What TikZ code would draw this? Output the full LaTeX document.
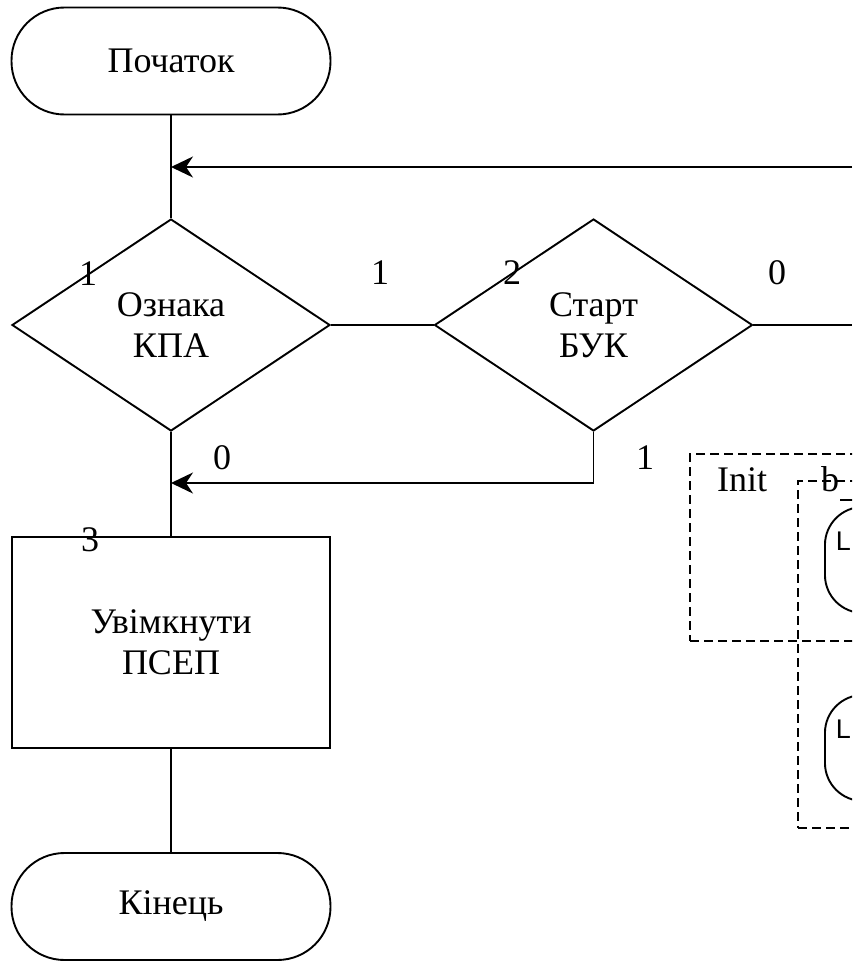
\documentclass[tikz,border=0pt]{standalone}
\usepackage{fontspec}
\setmainfont{Liberation Serif}
\newfontfamily\lsans{Liberation Sans}
\usetikzlibrary{shapes.geometric,arrows.meta}
\begin{document}
\begin{tikzpicture}[x=1pt,y=-1pt,line width=1.9pt,
  font=\fontsize{36}{41}\selectfont,
  term/.style={draw,rectangle,rounded corners=53pt,minimum width=319pt,minimum height=107pt,align=center,inner sep=0pt},
  dec/.style={draw,diamond,minimum width=318pt,minimum height=212pt,align=center,inner sep=0pt},
  proc/.style={draw,rectangle,minimum width=318pt,minimum height=211pt,align=center,inner sep=0pt},
  lbl/.style={inner sep=0pt},
  arr/.style={-{Stealth[length=22pt,width=21pt,inset=7pt]}},
  dbox/.style={draw,line width=2.2pt,dash pattern=on 9pt off 5pt,rectangle,inner sep=0pt,anchor=north west},
  rbox/.style={draw,rectangle,rounded corners=38pt,inner sep=0pt,anchor=north west,minimum width=150pt,minimum height=106pt},
  sanslbl/.style={inner sep=0pt,anchor=west,font=\lsans\fontsize{27}{31}\selectfont}]
\useasboundingbox (0,0) rectangle (852,961);
\fill[white] (0,0) rectangle (852,961);
\clip (0,0) rectangle (852,961);

% main flowchart
\node[term] (start) at (171,61) {Початок};
\node[dec] (d1) at (171,325) {Ознака\\КПА};
\node[dec] (d2) at (593.5,325) {Старт\\БУК};
\node[proc] (p1) at (171,642.5) {Увімкнути\\ПСЕП};
\node[term] (fin) at (171,906.5) {Кінець};

\coordinate (in1) at (852,167);
\coordinate (j1) at (171,167);
\coordinate (out2) at (852,325);
\coordinate (j2) at (171,483);

\draw (start.south) -- (d1.north);
\draw[arr] (in1) -- (j1);
\draw (d1.east) -- (d2.west);
\draw (d2.east) -- (out2);
\draw[arr] (d2.south) |- (j2);
\draw (d1.south) -- (p1.north);
\draw (p1.south) -- (fin.north);

% labels
\node[lbl] (l1a) at (88,274) {1};
\node[lbl] (l1b) at (380,273) {1};
\node[lbl] (l2) at (512,273) {2};
\node[lbl] (l0a) at (777,273) {0};
\node[lbl] (l0b) at (222,458) {0};
\node[lbl] (l1c) at (645,458) {1};
\node[lbl] (l3) at (90,540) {3};

% right-hand partial content
\node[dbox,minimum width=250pt,minimum height=187pt] (init) at (689,453) {};
\node[lbl] (initlbl) at (742,480) {Init};
\node[dbox,minimum width=200pt,minimum height=347pt] (boxb) at (797,480) {};
\node[lbl] (blbl) at (830,479) {b};
\coordinate (ba) at (840,500);
\coordinate (bb) at (870,500);
\draw (ba) -- (bb);
\node[rbox] (r1) at (824,506) {};
\node[sanslbl] (L1) at (835,541) {L};
\node[rbox] (r2) at (824,694) {};
\node[sanslbl] (L2) at (835,729) {L};
\end{tikzpicture}
\end{document}
